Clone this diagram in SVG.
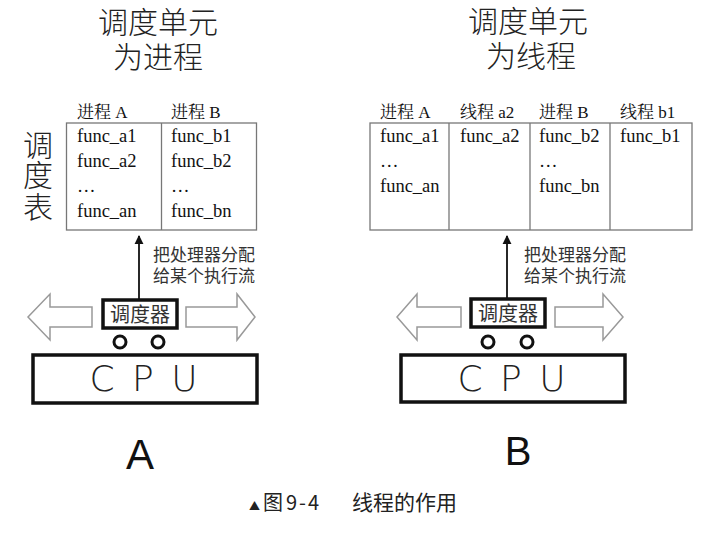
<svg xmlns="http://www.w3.org/2000/svg" width="710" height="535" viewBox="0 0 710 535">
<style>
.title{font-family:"Noto Sans CJK SC","Noto Sans",sans-serif;font-size:30px;font-weight:300;fill:#222;text-anchor:middle}
.hdr{font-family:"Liberation Serif","Noto Serif CJK SC","Noto Sans CJK SC",serif;font-size:17px;fill:#111}
.cell{font-family:"Liberation Serif",serif;font-size:18.5px;fill:#111}
.tbl{fill:#fff;stroke:#777;stroke-width:1.3}
.div{stroke:#777;stroke-width:1.3}
.note{font-family:"Noto Sans CJK SC",sans-serif;font-size:17px;fill:#333}
.sched{fill:#fff;stroke:#111;stroke-width:3.5}
.schedt{font-family:"Noto Sans CJK SC",sans-serif;font-size:20px;fill:#333;text-anchor:middle}
.wheel{fill:#fff;stroke:#111;stroke-width:3}
.cpu{fill:#fff;stroke:#111;stroke-width:3.5}
.cput{font-family:"DejaVu Sans","Liberation Sans",sans-serif;font-weight:300;font-size:36px;fill:#222;text-anchor:middle;letter-spacing:3px}
.hollow{fill:#fff;stroke:#999;stroke-width:1.5}
.big{font-family:"Liberation Sans",sans-serif;font-size:42px;fill:#111;text-anchor:middle}
.cap{font-family:"Noto Sans CJK SC",sans-serif;font-size:20px;fill:#222}
</style>
<defs>
<marker id="ah" viewBox="0 0 10 10" refX="9" refY="5" markerWidth="9" markerHeight="11" markerUnits="userSpaceOnUse" orient="auto">
<path d="M0,0 L10,5 L0,10 Z" fill="#111"/>
</marker>
</defs>

<g id="titleA">
<text class="title" x="158" y="33">调度单元</text>
<text class="title" x="158" y="68">为进程</text>
</g>
<g id="titleB">
<text class="title" x="528" y="32">调度单元</text>
<text class="title" x="531" y="67">为线程</text>
</g>

<g id="schedTableLabel">
<text class="title" x="38" y="156">调</text>
<text class="title" x="38" y="186">度</text>
<text class="title" x="38" y="218">表</text>
</g>

<g id="tableA">
<rect class="tbl" x="66.5" y="123" width="190" height="107"/>
<line class="div" x1="161.5" y1="123" x2="161.5" y2="230"/>
<text class="hdr" x="77" y="118">进程 A</text>
<text class="hdr" x="171" y="118">进程 B</text>
<text class="cell" x="77" y="142">func_a1</text>
<text class="cell" x="77" y="167">func_a2</text>
<text class="cell" x="77" y="192">…</text>
<text class="cell" x="77" y="217">func_an</text>
<text class="cell" x="171" y="142">func_b1</text>
<text class="cell" x="171" y="167">func_b2</text>
<text class="cell" x="171" y="192">…</text>
<text class="cell" x="171" y="217">func_bn</text>
</g>

<g id="tableB">
<rect class="tbl" x="370" y="123" width="322" height="107"/>
<line class="div" x1="449" y1="123" x2="449" y2="230"/>
<line class="div" x1="530" y1="123" x2="530" y2="230"/>
<line class="div" x1="610" y1="123" x2="610" y2="230"/>
<text class="hdr" x="380" y="118">进程 A</text>
<text class="hdr" x="460" y="118">线程 a2</text>
<text class="hdr" x="539" y="118">进程 B</text>
<text class="hdr" x="620" y="118">线程 b1</text>
<text class="cell" x="380" y="142">func_a1</text>
<text class="cell" x="380" y="167">…</text>
<text class="cell" x="380" y="192">func_an</text>
<text class="cell" x="460" y="142">func_a2</text>
<text class="cell" x="539" y="142">func_b2</text>
<text class="cell" x="539" y="167">…</text>
<text class="cell" x="539" y="192">func_bn</text>
<text class="cell" x="620" y="142">func_b1</text>
</g>

<g id="connectors">
<line x1="139" y1="299" x2="139" y2="236" stroke="#111" stroke-width="1.8" marker-end="url(#ah)"/>
<line x1="507" y1="298" x2="507" y2="236" stroke="#111" stroke-width="1.8" marker-end="url(#ah)"/>
</g>

<g id="noteA">
<text class="note" x="153" y="261">把处理器分配</text>
<text class="note" x="153" y="282">给某个执行流</text>
</g>
<g id="noteB">
<text class="note" x="524" y="261">把处理器分配</text>
<text class="note" x="524" y="282">给某个执行流</text>
</g>

<g id="arrowsA">
<polygon class="hollow" points="92,307 50,307 50,294 28,317 50,340 50,327 92,327"/>
<polygon class="hollow" points="186,307 237,307 237,294 255,317 237,340 237,327 186,327"/>
</g>
<g id="arrowsB">
<polygon class="hollow" points="461,307 417,307 417,294 397,317 417,340 417,327 461,327"/>
<polygon class="hollow" points="555,307 603,307 603,294 623,317 603,340 603,327 555,327"/>
</g>

<g id="schedulerA">
<rect class="sched" x="103" y="300" width="74" height="28"/>
<text class="schedt" x="140" y="322">调度器</text>
<circle class="wheel" cx="120" cy="342" r="6"/>
<circle class="wheel" cx="158" cy="342" r="6"/>
</g>
<g id="schedulerB">
<rect class="sched" x="471" y="299" width="74" height="28"/>
<text class="schedt" x="508" y="321">调度器</text>
<circle class="wheel" cx="488" cy="342" r="6"/>
<circle class="wheel" cx="527" cy="342" r="6"/>
</g>

<g id="cpuA">
<rect class="cpu" x="33" y="355" width="224" height="48"/>
<text class="cput" x="145" y="391">C P U</text>
</g>
<g id="cpuB">
<rect class="cpu" x="401" y="355" width="224" height="47"/>
<text class="cput" x="513" y="391">C P U</text>
</g>

<g id="labels">
<text class="big" x="140" y="469">A</text>
<text class="big" x="518" y="465" style="font-size:40px">B</text>
</g>

<g id="caption">
<text class="cap" x="249" y="510" style="font-size:11px">▲</text>
<text class="cap" x="263" y="510">图</text>
<text class="cap" x="286" y="510" letter-spacing="2">9-4</text>
<text class="cap" x="352" y="510" style="font-size:21px">线程的作用</text>
</g>
</svg>
